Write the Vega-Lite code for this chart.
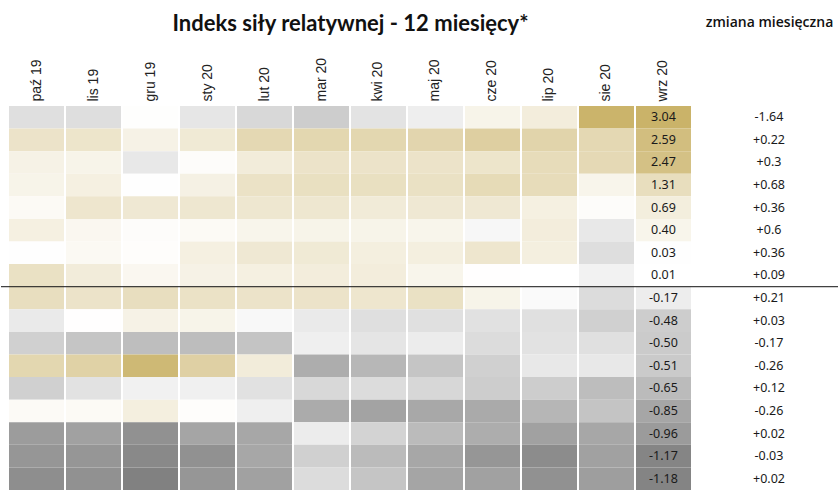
{
  "$schema": "https://vega.github.io/schema/vega-lite/v6.json",
  "width": 838,
  "height": 384,
  "padding": {"top": 12, "left": 0, "right": 0, "bottom": 0},
  "autosize": {"type": "pad"},
  "config": {"view": {"stroke": null}},
  "datasets": {
    "cells": [
      {"m":"paź 19","r":1,"v":-0.31},{"m":"lis 19","r":1,"v":-0.32},{"m":"gru 19","r":1,"v":0.05},{"m":"sty 20","r":1,"v":-0.24},{"m":"lut 20","r":1,"v":-0.37},{"m":"mar 20","r":1,"v":-0.48},{"m":"kwi 20","r":1,"v":-0.27},{"m":"maj 20","r":1,"v":-0.16},{"m":"cze 20","r":1,"v":0.45},{"m":"lip 20","r":1,"v":0.7},{"m":"sie 20","r":1,"v":3.0},{"m":"wrz 20","r":1,"v":3.04,"t":"3.04"},
      {"m":"paź 19","r":2,"v":1.1},{"m":"lis 19","r":2,"v":1.05},{"m":"gru 19","r":2,"v":0.5},{"m":"sty 20","r":2,"v":0.85},{"m":"lut 20","r":2,"v":1.55},{"m":"mar 20","r":2,"v":1.6},{"m":"kwi 20","r":2,"v":1.6},{"m":"maj 20","r":2,"v":1.65},{"m":"cze 20","r":2,"v":1.9},{"m":"lip 20","r":2,"v":1.7},{"m":"sie 20","r":2,"v":1.55},{"m":"wrz 20","r":2,"v":2.59,"t":"2.59"},
      {"m":"paź 19","r":3,"v":0.5},{"m":"lis 19","r":3,"v":0.45},{"m":"gru 19","r":3,"v":-0.22},{"m":"sty 20","r":3,"v":0.1},{"m":"lut 20","r":3,"v":0.75},{"m":"mar 20","r":3,"v":1.1},{"m":"kwi 20","r":3,"v":1.1},{"m":"maj 20","r":3,"v":1.1},{"m":"cze 20","r":3,"v":1.05},{"m":"lip 20","r":3,"v":1.4},{"m":"sie 20","r":3,"v":1.5},{"m":"wrz 20","r":3,"v":2.47,"t":"2.47"},
      {"m":"paź 19","r":4,"v":0.45},{"m":"lis 19","r":4,"v":0.6},{"m":"gru 19","r":4,"v":-0.01},{"m":"sty 20","r":4,"v":0.55},{"m":"lut 20","r":4,"v":1.15},{"m":"mar 20","r":4,"v":1.25},{"m":"kwi 20","r":4,"v":1.25},{"m":"maj 20","r":4,"v":1.2},{"m":"cze 20","r":4,"v":1.45},{"m":"lip 20","r":4,"v":1.4},{"m":"sie 20","r":4,"v":0.4},{"m":"wrz 20","r":4,"v":1.31,"t":"1.31"},
      {"m":"paź 19","r":5,"v":0.2},{"m":"lis 19","r":5,"v":1.0},{"m":"gru 19","r":5,"v":0.9},{"m":"sty 20","r":5,"v":0.95},{"m":"lut 20","r":5,"v":0.95},{"m":"mar 20","r":5,"v":0.95},{"m":"kwi 20","r":5,"v":0.8},{"m":"maj 20","r":5,"v":0.9},{"m":"cze 20","r":5,"v":0.9},{"m":"lip 20","r":5,"v":0.6},{"m":"sie 20","r":5,"v":0.1},{"m":"wrz 20","r":5,"v":0.69,"t":"0.69"},
      {"m":"paź 19","r":6,"v":0.6},{"m":"lis 19","r":6,"v":0.3},{"m":"gru 19","r":6,"v":0.1},{"m":"sty 20","r":6,"v":0.2},{"m":"lut 20","r":6,"v":0.4},{"m":"mar 20","r":6,"v":0.45},{"m":"kwi 20","r":6,"v":0.45},{"m":"maj 20","r":6,"v":0.4},{"m":"cze 20","r":6,"v":-0.08},{"m":"lip 20","r":6,"v":0.7},{"m":"sie 20","r":6,"v":-0.22},{"m":"wrz 20","r":6,"v":0.40,"t":"0.40"},
      {"m":"paź 19","r":7,"v":0.03},{"m":"lis 19","r":7,"v":0.25},{"m":"gru 19","r":7,"v":0.08},{"m":"sty 20","r":7,"v":0.6},{"m":"lut 20","r":7,"v":0.9},{"m":"mar 20","r":7,"v":0.85},{"m":"kwi 20","r":7,"v":0.65},{"m":"maj 20","r":7,"v":0.65},{"m":"cze 20","r":7,"v":1.0},{"m":"lip 20","r":7,"v":0.65},{"m":"sie 20","r":7,"v":-0.32},{"m":"wrz 20","r":7,"v":0.03,"t":"0.03"},
      {"m":"paź 19","r":8,"v":1.2},{"m":"lis 19","r":8,"v":0.75},{"m":"gru 19","r":8,"v":0.3},{"m":"sty 20","r":8,"v":0.5},{"m":"lut 20","r":8,"v":0.6},{"m":"mar 20","r":8,"v":0.7},{"m":"kwi 20","r":8,"v":0.7},{"m":"maj 20","r":8,"v":0.4},{"m":"cze 20","r":8,"v":0.02},{"m":"lip 20","r":8,"v":0.0},{"m":"sie 20","r":8,"v":-0.12},{"m":"wrz 20","r":8,"v":0.01,"t":"0.01"},
      {"m":"paź 19","r":9,"v":1.3},{"m":"lis 19","r":9,"v":1.1},{"m":"gru 19","r":9,"v":1.3},{"m":"sty 20","r":9,"v":1.15},{"m":"lut 20","r":9,"v":1.1},{"m":"mar 20","r":9,"v":1.1},{"m":"kwi 20","r":9,"v":1.0},{"m":"maj 20","r":9,"v":1.2},{"m":"cze 20","r":9,"v":0.45},{"m":"lip 20","r":9,"v":-0.05},{"m":"sie 20","r":9,"v":-0.33},{"m":"wrz 20","r":9,"v":-0.17,"t":"-0.17"},
      {"m":"paź 19","r":10,"v":-0.2},{"m":"lis 19","r":10,"v":0.02},{"m":"gru 19","r":10,"v":0.5},{"m":"sty 20","r":10,"v":0.45},{"m":"lut 20","r":10,"v":-0.07},{"m":"mar 20","r":10,"v":-0.2},{"m":"kwi 20","r":10,"v":-0.31},{"m":"maj 20","r":10,"v":-0.3},{"m":"cze 20","r":10,"v":-0.29},{"m":"lip 20","r":10,"v":-0.3},{"m":"sie 20","r":10,"v":-0.45},{"m":"wrz 20","r":10,"v":-0.48,"t":"-0.48"},
      {"m":"paź 19","r":11,"v":-0.45},{"m":"lis 19","r":11,"v":-0.55},{"m":"gru 19","r":11,"v":-0.62},{"m":"sty 20","r":11,"v":-0.63},{"m":"lut 20","r":11,"v":-0.56},{"m":"mar 20","r":11,"v":-0.15},{"m":"kwi 20","r":11,"v":-0.25},{"m":"maj 20","r":11,"v":-0.18},{"m":"cze 20","r":11,"v":-0.33},{"m":"lip 20","r":11,"v":-0.28},{"m":"sie 20","r":11,"v":-0.3},{"m":"wrz 20","r":11,"v":-0.50,"t":"-0.50"},
      {"m":"paź 19","r":12,"v":1.6},{"m":"lis 19","r":12,"v":1.8},{"m":"gru 19","r":12,"v":2.8},{"m":"sty 20","r":12,"v":1.85},{"m":"lut 20","r":12,"v":0.75},{"m":"mar 20","r":12,"v":-0.78},{"m":"kwi 20","r":12,"v":-0.69},{"m":"maj 20","r":12,"v":-0.55},{"m":"cze 20","r":12,"v":-0.45},{"m":"lip 20","r":12,"v":-0.22},{"m":"sie 20","r":12,"v":-0.22},{"m":"wrz 20","r":12,"v":-0.51,"t":"-0.51"},
      {"m":"paź 19","r":13,"v":-0.45},{"m":"lis 19","r":13,"v":-0.28},{"m":"gru 19","r":13,"v":-0.13},{"m":"sty 20","r":13,"v":-0.14},{"m":"lut 20","r":13,"v":-0.29},{"m":"mar 20","r":13,"v":-0.37},{"m":"kwi 20","r":13,"v":-0.33},{"m":"maj 20","r":13,"v":-0.38},{"m":"cze 20","r":13,"v":-0.48},{"m":"lip 20","r":13,"v":-0.48},{"m":"sie 20","r":13,"v":-0.63},{"m":"wrz 20","r":13,"v":-0.65,"t":"-0.65"},
      {"m":"paź 19","r":14,"v":0.18},{"m":"lis 19","r":14,"v":0.2},{"m":"gru 19","r":14,"v":0.65},{"m":"sty 20","r":14,"v":0.08},{"m":"lut 20","r":14,"v":-0.15},{"m":"mar 20","r":14,"v":-0.8},{"m":"kwi 20","r":14,"v":-0.88},{"m":"maj 20","r":14,"v":-0.83},{"m":"cze 20","r":14,"v":-0.81},{"m":"lip 20","r":14,"v":-0.7},{"m":"sie 20","r":14,"v":-0.56},{"m":"wrz 20","r":14,"v":-0.85,"t":"-0.85"},
      {"m":"paź 19","r":15,"v":-0.95},{"m":"lis 19","r":15,"v":-0.9},{"m":"gru 19","r":15,"v":-1.05},{"m":"sty 20","r":15,"v":-0.86},{"m":"lut 20","r":15,"v":-0.84},{"m":"mar 20","r":15,"v":-0.18},{"m":"kwi 20","r":15,"v":-0.42},{"m":"maj 20","r":15,"v":-0.65},{"m":"cze 20","r":15,"v":-0.78},{"m":"lip 20","r":15,"v":-0.9},{"m":"sie 20","r":15,"v":-0.84},{"m":"wrz 20","r":15,"v":-0.96,"t":"-0.96"},
      {"m":"paź 19","r":16,"v":-1.0},{"m":"lis 19","r":16,"v":-1.0},{"m":"gru 19","r":16,"v":-1.13},{"m":"sty 20","r":16,"v":-1.05},{"m":"lut 20","r":16,"v":-0.84},{"m":"mar 20","r":16,"v":-0.45},{"m":"kwi 20","r":16,"v":-0.65},{"m":"maj 20","r":16,"v":-0.84},{"m":"cze 20","r":16,"v":-1.0},{"m":"lip 20","r":16,"v":-1.1},{"m":"sie 20","r":16,"v":-0.9},{"m":"wrz 20","r":16,"v":-1.17,"t":"-1.17"},
      {"m":"paź 19","r":17,"v":-1.08},{"m":"lis 19","r":17,"v":-1.05},{"m":"gru 19","r":17,"v":-1.2},{"m":"sty 20","r":17,"v":-1.0},{"m":"lut 20","r":17,"v":-0.9},{"m":"mar 20","r":17,"v":-0.33},{"m":"kwi 20","r":17,"v":-0.55},{"m":"maj 20","r":17,"v":-0.86},{"m":"cze 20","r":17,"v":-0.9},{"m":"lip 20","r":17,"v":-1.05},{"m":"sie 20","r":17,"v":-0.93},{"m":"wrz 20","r":17,"v":-1.18,"t":"-1.18"}
    ],
    "chg": [
      {"r":1,"c":"-1.64"},{"r":2,"c":"+0.22"},{"r":3,"c":"+0.3"},{"r":4,"c":"+0.68"},{"r":5,"c":"+0.36"},{"r":6,"c":"+0.6"},{"r":7,"c":"+0.36"},{"r":8,"c":"+0.09"},{"r":9,"c":"+0.21"},{"r":10,"c":"+0.03"},{"r":11,"c":"-0.17"},{"r":12,"c":"-0.26"},{"r":13,"c":"+0.12"},{"r":14,"c":"-0.26"},{"r":15,"c":"+0.02"},{"r":16,"c":"-0.03"},{"r":17,"c":"+0.02"}
    ],
    "line": [{"r":9}]
  },
  "layer": [
    {
      "data": {"name": "cells"},
      "layer": [
        {
          "mark": {"type": "rect"},
          "encoding": {
            "x": {
              "field": "m", "type": "nominal",
              "scale": {"domain": ["paź 19","lis 19","gru 19","sty 20","lut 20","mar 20","kwi 20","maj 20","cze 20","lip 20","sie 20","wrz 20"], "range": [8, 690], "paddingInner": 0.035, "paddingOuter": 0},
              "axis": {"orient": "top", "labelAngle": -90, "labelFont": "Liberation Sans", "labelFontSize": 14, "labelColor": "#222222", "labelPadding": 5, "ticks": false, "domain": false, "grid": false,
                       "title": "Indeks siły relatywnej - 12 miesięcy*", "titleFont": "Lato", "titleFontSize": 22, "titleFontWeight": "bold", "titleColor": "#111111", "titlePadding": 22}
            },
            "y": {"field": "r", "type": "ordinal", "scale": {"paddingInner": 0, "paddingOuter": 0}, "axis": null},
            "color": {"field": "v", "type": "quantitative", "scale": {"domain": [-1.3, 0, 3.1], "range": ["#777777", "#ffffff", "#c9b166"], "interpolate": "rgb"}, "legend": null}
          }
        },
        {
          "transform": [{"filter": "datum.m === 'wrz 20'"}],
          "mark": {"type": "text", "font": "Noto Sans", "fontSize": 12.5, "color": "#1a1a1a"},
          "encoding": {
            "x": {"field": "m", "type": "nominal"},
            "y": {"field": "r", "type": "ordinal", "axis": null},
            "text": {"field": "t"}
          }
        }
      ]
    },
    {
      "data": {"name": "chg"},
      "mark": {"type": "text", "font": "Noto Sans", "fontSize": 12.5, "color": "#1a1a1a"},
      "encoding": {
        "x": {"datum": "zmiana miesięczna", "type": "nominal", "scale": {"range": [740, 796]},
              "axis": {"orient": "top", "labelAngle": 0, "labelPadding": 77, "labelFont": "Open Sans", "labelFontWeight": 600, "labelFontSize": 14, "labelColor": "#111111", "ticks": false, "domain": false, "grid": false, "title": null}},
        "y": {"field": "r", "type": "ordinal", "axis": null},
        "text": {"field": "c"}
      }
    },
    {
      "data": {"name": "line"},
      "mark": {"type": "rule", "color": "#111111", "strokeWidth": 1},
      "encoding": {"y": {"field": "r", "type": "ordinal", "bandPosition": 0, "axis": null}}
    }
  ],
  "resolve": {"scale": {"x": "independent"}, "axis": {"x": "independent"}}
}
